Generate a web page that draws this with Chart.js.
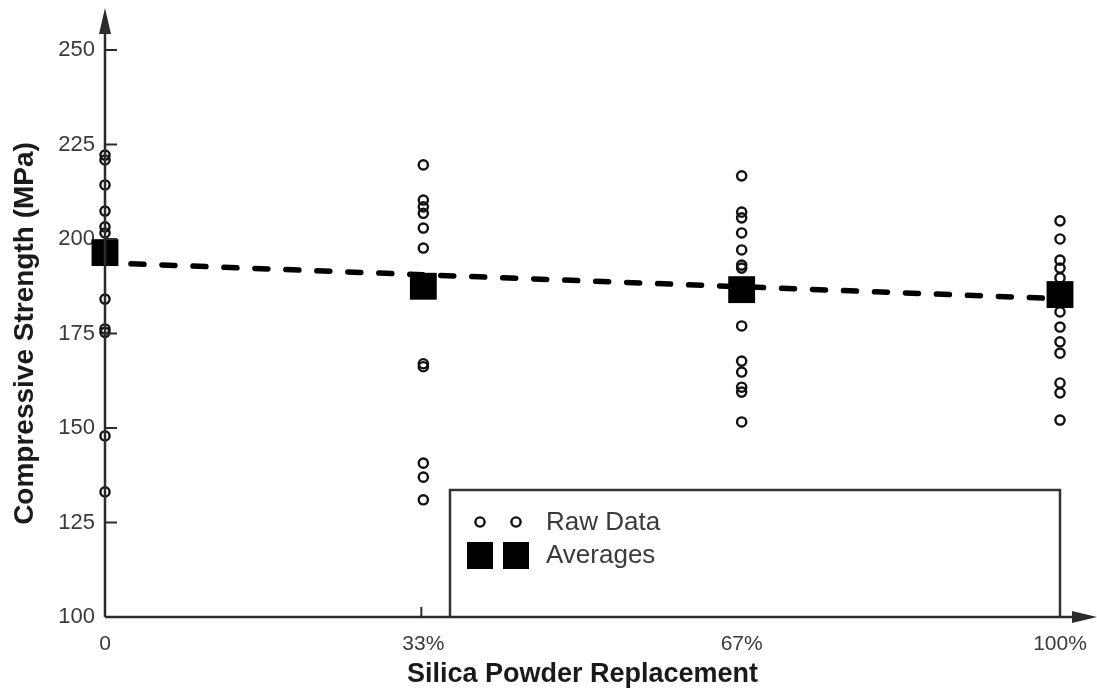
<!DOCTYPE html>
<html>
<head>
<meta charset="utf-8">
<script src="https://cdn.jsdelivr.net/npm/chart.js@4/dist/chart.umd.min.js"></script>
<style>
  html, body { margin: 0; padding: 0; background: #fff; }
  #wrap { width: 1097px; height: 692px; }
</style>
</head>
<body>
<div id="wrap"><canvas id="c" width="1097" height="692"></canvas></div>
<script>
// Replacement levels (x positions 0..3) and their tick labels
const replacementLabels = ['0', '33%', '67%', '100%'];
const yTicks = [100, 125, 150, 175, 200, 225, 250];

// Individual compressive strength results (MPa) per replacement level
const raw0   = [222.2, 220.9, 214.3, 207.4, 203.2, 201.6, 184.1, 176.2, 175.3, 147.9, 133.1];
const raw33  = [219.6, 210.3, 208.5, 206.8, 202.9, 197.6, 167.0, 166.2, 140.7, 137.0, 131.0];
const raw67  = [216.7, 207.1, 205.6, 201.6, 197.1, 193.1, 192.3, 177.0, 167.7, 164.8, 160.8, 159.5, 151.6];
const raw100 = [204.8, 200.0, 194.4, 192.3, 189.7, 180.7, 176.7, 172.8, 169.8, 161.9, 159.3, 152.1];

// Mean strength per replacement level
const averages = [196.4, 187.5, 186.6, 185.3];

// Linear trend through the averages, at 0 and 100 % replacement
const trendX = [0, 3];
const trendY = [193.7, 184.2];

const rawSets = [raw0, raw33, raw67, raw100];
const rawPoints = [];
rawSets.forEach((set, i) => set.forEach(v => rawPoints.push({ x: i, y: v })));
const avgPoints = averages.map((v, i) => ({ x: i, y: v }));
const trendPoints = trendX.map((x, i) => ({ x: x, y: trendY[i] }));

const AXIS = '#2b2b2b';
const TEXT = '#3a3a3a';
const FONT = "'Liberation Sans', Arial, sans-serif";

// Axis lines with arrowheads, inward tick marks and the framed legend
const decorations = {
  id: 'decorations',
  afterDatasetsDraw(chart) {
    const { ctx, chartArea: a, scales: { x, y } } = chart;
    ctx.save();
    ctx.strokeStyle = AXIS;
    ctx.fillStyle = AXIS;
    ctx.lineWidth = 2.5;
    ctx.lineCap = 'butt';

    // y axis with arrow
    const y0 = y.getPixelForValue(100);
    ctx.beginPath();
    ctx.moveTo(a.left, y0);
    ctx.lineTo(a.left, 30);
    ctx.stroke();
    ctx.beginPath();
    ctx.moveTo(a.left, 8);
    ctx.lineTo(a.left - 6, 34);
    ctx.lineTo(a.left + 6, 34);
    ctx.closePath();
    ctx.fill();

    // x axis with arrow
    ctx.beginPath();
    ctx.moveTo(a.left, y0);
    ctx.lineTo(1075, y0);
    ctx.stroke();
    ctx.beginPath();
    ctx.moveTo(1097, y0);
    ctx.lineTo(1072, y0 - 6);
    ctx.lineTo(1072, y0 + 6);
    ctx.closePath();
    ctx.fill();

    // inward y ticks
    ctx.lineWidth = 2;
    yTicks.forEach(v => {
      if (v === 100) return;
      const py = y.getPixelForValue(v);
      ctx.beginPath();
      ctx.moveTo(a.left, py);
      ctx.lineTo(a.left + 12, py);
      ctx.stroke();
    });
    // small x tick at 33 %
    const px1 = x.getPixelForValue(1);
    ctx.beginPath();
    ctx.moveTo(px1 - 2, y0);
    ctx.lineTo(px1 - 2, y0 - 10);
    ctx.stroke();

    // legend frame
    const lx = 450, ly = 490, rx = x.getPixelForValue(3);
    ctx.lineWidth = 2.5;
    ctx.strokeStyle = '#333';
    ctx.beginPath();
    ctx.moveTo(lx, y0);
    ctx.lineTo(lx, ly);
    ctx.lineTo(rx, ly);
    ctx.lineTo(rx, y0);
    ctx.stroke();

    // legend symbols
    ctx.strokeStyle = '#111';
    ctx.lineWidth = 2.4;
    [480, 516].forEach(cx => {
      ctx.beginPath();
      ctx.arc(cx, 522, 4.6, 0, Math.PI * 2);
      ctx.stroke();
      ctx.fillStyle = '#000';
      ctx.fillRect(cx - 13, 542, 26, 27);
    });
    ctx.fillStyle = TEXT;
    ctx.font = '26px ' + FONT;
    ctx.textBaseline = 'middle';
    ctx.textAlign = 'left';
    ctx.fillText('Raw Data', 546, 523);
    ctx.fillText('Averages', 546, 556);
    ctx.restore();
  }
};

new Chart(document.getElementById('c'), {
  type: 'scatter',
  data: {
    datasets: [
      {
        label: 'Trend',
        type: 'line',
        data: trendPoints,
        borderColor: '#000',
        borderWidth: 5.5,
        borderDash: [13, 18],
        borderDashOffset: -26,
        borderCapStyle: 'round',
        pointRadius: 0,
        fill: false,
        clip: false,
        order: 3
      },
      {
        label: 'Raw Data',
        data: rawPoints,
        pointStyle: 'circle',
        pointRadius: 4.6,
        pointBorderWidth: 2.4,
        borderColor: '#111',
        backgroundColor: 'rgba(255,255,255,0)',
        clip: false,
        order: 2
      },
      {
        label: 'Averages',
        data: avgPoints,
        pointStyle: 'rect',
        pointRadius: 19,
        pointBorderWidth: 0,
        borderColor: '#000',
        backgroundColor: '#000',
        clip: false,
        order: 1
      }
    ]
  },
  options: {
    responsive: false,
    animation: false,
    devicePixelRatio: 1,
    layout: { padding: { top: 50, right: 37, left: 0, bottom: 0 } },
    plugins: {
      legend: { display: false },
      tooltip: { enabled: false }
    },
    scales: {
      x: {
        type: 'linear',
        min: 0,
        max: 3,
        grid: { display: false, drawTicks: false },
        border: { display: false },
        afterFit: s => { s.height = 75; s.paddingLeft = 0; s.paddingRight = 0; },
        afterBuildTicks: s => { s.ticks = replacementLabels.map((_, i) => ({ value: i })); },
        ticks: {
          padding: 15,
          color: TEXT,
          font: { family: FONT, size: 21 },
          callback: v => replacementLabels[v]
        },
        title: {
          display: true,
          text: 'Silica Powder Replacement',
          color: '#1a1a1a',
          font: { family: FONT, size: 27, weight: 'bold' },
          padding: { top: 0, bottom: 1 }
        }
      },
      y: {
        type: 'linear',
        min: 100,
        max: 250,
        grid: { display: false, drawTicks: false },
        border: { display: false },
        afterFit: s => { s.width = 105; },
        afterBuildTicks: s => { s.ticks = yTicks.map(v => ({ value: v })); },
        ticks: {
          padding: 10,
          color: TEXT,
          font: { family: FONT, size: 22 }
        },
        title: {
          display: true,
          text: 'Compressive Strength (MPa)',
          color: '#1a1a1a',
          font: { family: FONT, size: 28, weight: 'bold' },
          padding: { top: 8, bottom: 0 }
        }
      }
    }
  },
  plugins: [decorations]
});
</script>
</body>
</html>
